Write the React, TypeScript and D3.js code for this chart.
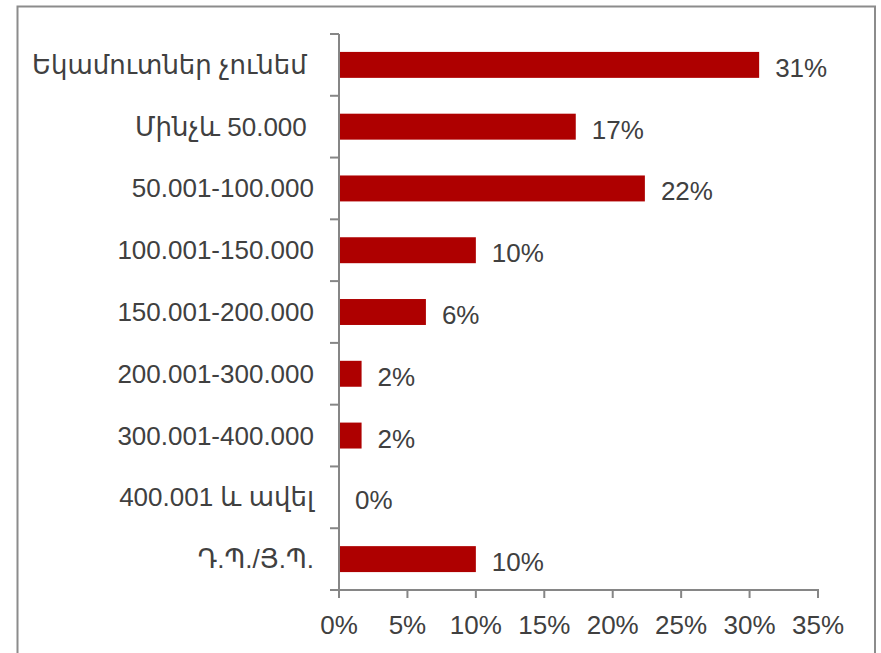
import React from "react";
import * as d3 from "d3";

const categories = [
  "Եկամուտներ չունեմ ",
  "Մինչև 50.000 ",
  "50.001-100.000",
  "100.001-150.000",
  "150.001-200.000",
  "200.001-300.000",
  "300.001-400.000",
  "400.001 և ավել",
  "Դ.Պ./Յ.Պ.",
];
const values = [30.7, 17.3, 22.35, 10.0, 6.35, 1.65, 1.65, 0, 10.0];
const valueLabels = ["31%", "17%", "22%", "10%", "6%", "2%", "2%", "0%", "10%"];
const xTicks = [0, 5, 10, 15, 20, 25, 30, 35];

const W = 881;
const H = 653;
const FONT = "'Liberation Sans', 'DejaVu Sans', sans-serif";
const TEXT = "#404040";
const AXIS = "#868686";
const BAR = "#AE0000";

export default function App() {
  const x = d3.scaleLinear().domain([0, 35]).range([339, 818]);
  const y = d3
    .scaleBand<string>()
    .domain(categories)
    .range([34, 590])
    .paddingInner(0.58)
    .paddingOuter(0.29);
  const step = y.step();
  const top = 34;
  const bottom = 590;
  const boundaries = d3.range(categories.length + 1).map((i) => top + i * ((bottom - top) / categories.length));

  return (
    <svg
      width={W}
      height={H}
      style={{ position: "absolute", left: 0, top: 0, display: "block", background: "#fff" }}
    >
      <rect x={17.5} y={6.5} width={857.5} height={660} fill="#fff" stroke="#8c8c8c" strokeWidth={2} />
      {categories.map((c, i) => (
        <rect
          key={c}
          x={x(0)}
          y={y(c)!}
          width={x(values[i]) - x(0)}
          height={y.bandwidth()}
          fill={BAR}
        />
      ))}
      {/* category axis */}
      <line x1={339} x2={339} y1={top} y2={bottom} stroke={AXIS} strokeWidth={2} />
      {boundaries.map((b, i) => (
        <line key={i} x1={330} x2={339} y1={b} y2={b} stroke={AXIS} strokeWidth={2} />
      ))}
      {/* value axis */}
      <line x1={330} x2={x(35) + 1} y1={bottom} y2={bottom} stroke={AXIS} strokeWidth={2} />
      {xTicks.map((t) => (
        <g key={t}>
          <line x1={x(t)} x2={x(t)} y1={bottom} y2={bottom + 8} stroke={AXIS} strokeWidth={2} />
          <text
            x={x(t)}
            y={634}
            textAnchor="middle"
            fontFamily={FONT}
            fontSize={26}
            fill={TEXT}
          >
            {t + "%"}
          </text>
        </g>
      ))}
      {categories.map((c, i) => (
        <text
          key={"l" + c}
          x={314}
          y={y(c)! + y.bandwidth() / 2 + 9}
          textAnchor="end"
          fontFamily={FONT}
          fontSize={26}
          fill={TEXT}
          style={{ whiteSpace: "pre" }}
        >
          {c}
        </text>
      ))}
      {categories.map((c, i) => (
        <text
          key={"v" + c}
          x={x(values[i]) + 16}
          y={y(c)! + y.bandwidth() / 2 + 12}
          fontFamily={FONT}
          fontSize={26}
          fill={TEXT}
        >
          {valueLabels[i]}
        </text>
      ))}
    </svg>
  );
}
